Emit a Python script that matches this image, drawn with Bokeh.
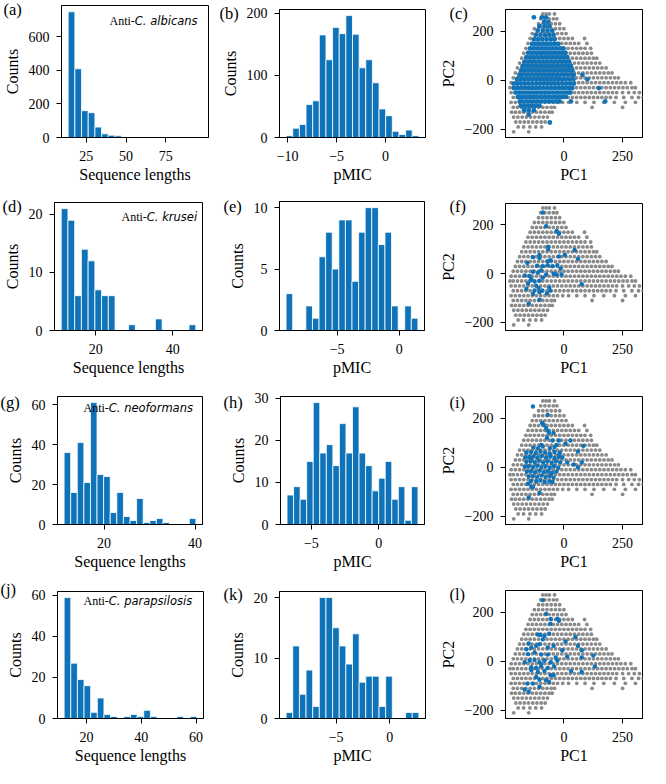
import numpy as np
from bokeh.plotting import figure
from bokeh.layouts import column, row
from bokeh.models import Range1d, FixedTicker, Label
from bokeh.embed import file_html
from bokeh.resources import INLINE

BLUE = "#0f73b9"
GRAY = "#8a8a8a"
SERIF = "Liberation Serif"

# ---------------- histogram data (20 bins each) ----------------
len_albicans = [750, 410, 160, 148, 62, 22, 14, 10, 3, 2, 1, 1, 1, 0, 1, 0, 0, 0, 0, 1]
len_albicans_bins = (13.6, 97.6)
pmic_albicans = [3, 15, 21, 53, 59, 165, 125, 177, 167, 196, 166, 112, 125, 88, 46, 35, 10, 5, 12, 3]
pmic_albicans_bins = (-10.15, 3.4)

len_krusei = [21, 19, 6, 14, 12, 7, 6, 6, 0, 0, 1, 0, 0, 0, 2, 0, 0, 0, 0, 1]
len_krusei_bins = (11.0, 46.0)
pmic_krusei = [3, 0, 0, 2, 1, 6, 8, 5, 9, 9, 4, 8, 10, 10, 7, 8, 2, 0, 2, 1]
pmic_krusei_bins = (-9.1, 1.5)

len_neoformans = [36, 16, 41, 21, 61, 25, 24, 6, 16, 4, 2, 13, 1, 2, 3, 1, 0, 0, 0, 3]
len_neoformans_bins = (11.2, 40.2)
pmic_neoformans = [7, 9, 6, 15, 29, 17, 19, 14, 24, 17, 28, 17, 14, 8, 11, 15, 6, 9, 1, 9]
pmic_neoformans_bins = (-6.8, 2.9)

len_parapsilosis = [59, 27, 19, 16, 3, 10, 2, 1, 0, 1, 2, 1, 4, 1, 0, 0, 0, 1, 0, 1]
len_parapsilosis_bins = (11.8, 60.3)
pmic_parapsilosis = [1, 12, 4, 8, 2, 20, 20, 15, 12, 9, 14, 6, 7, 7, 2, 7, 0, 0, 1, 1]
pmic_parapsilosis_bins = (-9.65, 2.7)

species = ["albicans", "krusei", "neoformans", "parapsilosis"]
len_ticks = [[25, 50, 75], [20, 40], [20, 40], [20, 40, 60]]
len_yticks = [[0, 200, 400, 600], [0, 10, 20], [0, 20, 40, 60], [0, 20, 40, 60]]
pmic_ticks = [[-10, -5, 0], [-5, 0], [-5, 0], [-5, 0]]
pmic_yticks = [[0, 100, 200], [0, 5, 10], [0, 10, 20, 30], [0, 10, 20]]
pc_xticks = [0, 250]
pc_yticks = [-200, 0, 200]
pc_xrange = (-249, 335)
pc_yrange = (-233, 288)

# ---------------- PCA background (all peptides), read row by row ----------------
gray_row_y = [270, 250, 230, 210, 190, 170, 150, 130, 110, 90, 70, 50, 30, 10,
              -10, -30, -50, -70, -90, -110, -130, -150, -170, -190, -210]
gray_row_x = [
    [-90, -76, -62, -40],
    [-99, -81, -63, -45, -30],
    [-108, -90, -72, -54, -36, -18],
    [-126, -108, -90, -72, -54, -36, -18, 0],
    [-135, -117, -99, -81, -63, -45, -27, -9, 9],
    [-144, -126, -108, -90, -72, -54, -36, -18, 0, 18, 36, 88],
    [-153, -135, -117, -99, -81, -63, -45, -27, -9, 9, 27, 45, 63, 98],
    [-162, -144, -126, -108, -90, -72, -54, -36, -18, 0, 18, 36, 54, 72, 90, 114],
    [-171, -153, -135, -117, -99, -81, -63, -45, -27, -9, 9, 27, 45, 63, 81, 99, 117],
    [-180, -162, -144, -126, -108, -90, -72, -54, -36, -18, 0, 18, 36, 54, 72, 90, 108, 126, 140],
    [-189, -171, -153, -135, -117, -99, -81, -63, -45, -27, -9, 9, 27, 45, 63, 81, 99, 117, 135, 153],
    [-198, -180, -162, -144, -126, -108, -90, -72, -54, -36, -18, 0, 18, 36, 54, 72, 90, 108, 126,
     144, 162, 180],
    [-207, -189, -171, -153, -135, -117, -99, -81, -63, -45, -27, -9, 9, 27, 45, 63, 81, 99, 117,
     135, 153, 171, 189, 205],
    [-216, -198, -180, -162, -144, -126, -108, -90, -72, -54, -36, -18, 0, 18, 36, 54, 72, 90, 108,
     126, 144, 162, 180, 198, 216, 232],
    [-225, -207, -189, -171, -153, -135, -117, -99, -81, -63, -45, -27, -9, 9, 27, 45, 63, 81, 99,
     117, 135, 153, 171, 189, 207, 225, 243, 262, 285],
    [-230, -216, -198, -180, -162, -144, -126, -108, -90, -72, -54, -36, -18, 0, 18, 36, 54, 72, 90,
     108, 126, 144, 162, 180, 198, 216, 234, 252, 270, 290, 305],
    [-225, -207, -189, -171, -153, -135, -117, -99, -81, -63, -45, -27, -9, 9, 27, 45, 63, 81, 99,
     117, 135, 153, 171, 189, 207, 225, 250, 276, 300, 322],
    [-216, -198, -180, -162, -144, -126, -108, -90, -72, -54, -36, -18, 0, 18, 36, 54, 72, 90, 108,
     126, 144, 162, 180, 198, 222, 255, 290, 318, 338],
    [-225, -207, -189, -171, -153, -135, -117, -99, -81, -63, -45, -27, -5, 20, 55, 90, 128, 170,
     215, 262, 305],
    [-216, -198, -180, -162, -144, -126, -108, -90, -72, -54, -40, 120, 250],
    [-223, -207, -189, -171, -153, -135, -117, -99, -81, -63, -50],
    [-214, -196, -178, -160, -142, -124, -106, -88, -70],
    [-205, -187, -169, -151, -133, -115, -97, -80],
    [-195, -172, -145, -120, -95],
    [-214, -150],
]

# ---------------- anti-C. albicans peptides in PC space (dense, read row by row) ----------------
alb_row_y = [256, 238, 220, 202, 184, 166, 148, 130, 112, 94, 76, 58, 40, 22, 4,
             -14, -32, -50, -68, -86, -104, -122, -140, -172]
alb_row_x = [
    [-128, -94, -76],
    [-84, -66],
    [-104, -82, -62],
    [-112, -90, -70, -50],
    [-120, -100, -80, -62, -44],
    [-128, -110, -92, -74, -56, -40],
    [-136, -120, -104, -88, -72, -56, -40, -24],
    [-144, -128, -112, -96, -80, -64, -48, -32, -16, -2],
    [-152, -136, -120, -104, -88, -72, -56, -40, -24, -8, 6],
    [-160, -144, -128, -112, -96, -80, -64, -48, -32, -16, 0, 14],
    [-168, -152, -136, -120, -104, -88, -72, -56, -40, -24, -8, 8, 22],
    [-176, -160, -144, -128, -112, -96, -80, -64, -48, -32, -16, 0, 16, 30],
    [-182, -168, -152, -136, -120, -104, -88, -72, -56, -40, -24, -8, 8, 24, 36],
    [-190, -176, -160, -144, -128, -112, -96, -80, -64, -48, -32, -16, 0, 16, 32, 42, 79],
    [-200, -184, -168, -152, -136, -120, -104, -88, -72, -56, -40, -24, -8, 8, 24, 40, 100],
    [-214, -198, -182, -166, -150, -134, -118, -102, -86, -70, -54, -38, -22, -6, 10, 26, 42],
    [-214, -200, -184, -168, -152, -136, -120, -104, -88, -72, -56, -40, -24, -8, 8, 24, 36, 149],
    [-206, -192, -176, -160, -144, -128, -112, -96, -80, -64, -48, -32, -16, 0, 16, 28],
    [-196, -184, -168, -152, -136, -120, -104, -88, -72, -56, -40, -24, -8, 8],
    [-188, -176, -160, -144, -128, -112, -96, -80, -64, -48, -32, -18, 30, 176],
    [-184, -168, -152, -136, -120, -104],
    [-170, -150, -128],
    [-150],
    [-60],
]

# ---------------- anti-C. krusei peptides in PC space ----------------
kru_pc1 = [-90, -76, -31, -21, -67, -67, 46, -132, -104, -104, -69, -56, -21, 4, 60, -156, -114, -90,
           -69, -49, -28, -14, -167, -146, -132, -111, -97, -76, -44, -31, -10, -142, -125, -104, -90,
           -153, -160, -118, -108, -125, -93, -63, -58, -72, -104, -132, -104, -150, 76, -139]
kru_pc2 = [251, 195, 175, 164, 111, 100, 97, 68, 77, 64, 51, 55, 71, 77, 61, 44, 33, 31,
           35, 31, 35, 21, -7, -9, 8, 4, 13, -3, 0, -3, -3, -27, -32, -29, -16,
           -40, -63, -49, -59, -69, -69, -56, -69, -80, -76, -83, -107, -123, -43, -23]

# ---------------- anti-C. neoformans peptides in PC space ----------------
neo_pc1 = [-132, -69, -93, -86, -76, -69, -63, -44, -72, -49, -21, 28, 7, -31, -97, 83, 60, -17, -139,
           42, 60, 76, 14, -7, -153, -139, -132, -104, -150, -49, -56,
           -160, -140, -120, -100, -80, -60, -40, -20,
           -165, -148, -130, -112, -94, -76, -58, -40, -22,
           -160, -142, -124, -106, -88, -70, -52, -34, -16,
           -166, -150, -132, -114, -96, -78, -60, -42, -24,
           -158, -140, -122, -104, -86, -68, -50, -32,
           -150, -132, -114, -96, -78, -60, -44,
           -140, -118, -100, -82, -62,
           -130, -110, -90, -60, -40]
neo_pc2 = [247, 213, 180, 173, 160, 149, 140, 140, 120, 109, 109, 109, 96, 91, 91, 87, 64, 60, 37,
           11, 0, 20, 20, 40, -67, -80, -80, -104, -123, -60, -27,
           60, 62, 58, 64, 60, 56, 62, 52,
           40, 42, 44, 40, 46, 40, 44, 38, 42,
           22, 24, 20, 26, 20, 24, 18, 24, 20,
           2, 4, 0, 6, 0, 4, -2, 4, -2,
           -18, -16, -20, -14, -20, -16, -22, -18,
           -38, -36, -40, -34, -40, -36, -42,
           -56, -58, -54, -60, -58,
           80, 78, 84, 78, 82]

# ---------------- anti-C. parapsilosis peptides in PC space ----------------
par_pc1 = [-90, -76, -28, -21, -56, -58, -111, -100, -83, -63, -90, 7, 49, -150, -139, -118, -104, -69,
           -44, -7, 60, 76, -160, -153, -125, -97, -69, -35, 14, 76, 125, -167, -146, -125, -104, -83,
           -56, -28, -139, -118, -97, -69, -42, -139, -111, -83, -56, -44, 31, 76, 132, -104, -76, -132,
           -63, -156, -104, -167, -150, -118, -97]
par_pc2 = [249, 193, 173, 165, 172, 152, 109, 107, 103, 112, 89, 80, 99, 72, 56, 63, 69, 56,
           63, 45, 63, 45, 49, 29, 36, 27, 27, 16, 19, 16, 23, -4, 3, 5, -4, 3,
           -4, 3, -24, -27, -21, -27, -21, -37, -44, -40, -57, -57, -40, -44, -21, -75, -77, -91,
           -84, -91, -104, -115, -124, -64, -11]

# ---------------- layout (pixels) ----------------
COL_W = [217, 217, 216]
ROW_H = 192
TOP_PANEL = 22                    # room for the panel letter, overlapping the cell above
EXTRA_BOTTOM = [12, 12, 12, 8]    # spare room below each row (overlaps the next row / page margin)
# per panel: (left, right, top, bottom) borders of the frame inside its cell
BORDERS = [
    [(58, 9, 5, 55), (62, 9, 9, 55), (71, 8, 9, 55)],
    [(52, 15, 10, 53), (62, 10, 9, 53), (71, 8, 11, 54)],
    [(57, 15, 12, 51), (63, 10, 12, 51), (71, 8, 12, 52)],
    [(57, 14, 15, 48), (62, 9, 15, 48), (71, 8, 14, 50)],
]
LETTERS = [["(a)", "(b)", "(c)"], ["(d)", "(e)", "(f)"], ["(g)", "(h)", "(i)"], ["(j)", "(k)", "(l)"]]
# letter (left, top) in cell pixels
LETTER_POS = [
    [(0, -1), (2, 3), (15, 3)],
    [(0, 4), (6, 4), (15, 4)],
    [(0, 8), (6, 8), (15, 8)],
    [(0, 3), (6, 8), (15, 8)],
]
# left edge of "Anti-" relative to the frame left, and baseline below frame top
ANNOT_X = [48, 67, 26, 26]
ANNOT_BASE = [15, 15, 12, 11]
ANTI_W = 2.111 * 12  # Liberation Serif advance of "Anti-" at 12px


def fmt_minus(ticks):
    return {t: ("\u2212" + str(abs(t)) if t < 0 else str(t)) for t in ticks}


def make_fig(r, w, b, xr, yr, xticks, yticks, xlabel, ylabel):
    bl, br, bt, bb = b
    extra = TOP_PANEL - bt
    eb = EXTRA_BOTTOM[r]
    p = figure(width=w, height=ROW_H + extra + eb, x_range=Range1d(*xr), y_range=Range1d(*yr),
               min_border_left=bl, min_border_right=br, min_border_top=TOP_PANEL,
               min_border_bottom=bb + eb, margin=(-extra, 0, -eb, 0),
               output_backend="svg", toolbar_location=None, tools="")
    p.xgrid.visible = False
    p.ygrid.visible = False
    p.outline_line_color = "black"
    p.outline_line_width = 1
    p.outline_line_alpha = 1
    p.background_fill_color = "white"
    p.border_fill_color = None
    p.xaxis.ticker = FixedTicker(ticks=xticks)
    p.yaxis.ticker = FixedTicker(ticks=yticks)
    p.xaxis.major_label_overrides = fmt_minus(xticks)
    p.yaxis.major_label_overrides = fmt_minus(yticks)
    p.xaxis.axis_label = xlabel
    p.yaxis.axis_label = ylabel
    for ax in (p.xaxis[0], p.yaxis[0]):
        ax.major_tick_in = 0
        ax.major_tick_out = 5
        ax.minor_tick_line_color = None
        ax.axis_line_color = "black"
        ax.major_tick_line_color = "black"
        ax.major_label_text_font = SERIF
        ax.major_label_text_font_size = "14px"
        ax.major_label_text_color = "black"
        ax.axis_label_text_font = SERIF
        ax.axis_label_text_font_size = "16px"
        ax.axis_label_text_font_style = "normal"
        ax.axis_label_text_color = "black"
    p.xaxis.major_label_standoff = 8
    p.xaxis.axis_label_standoff = 2
    p.yaxis.major_label_standoff = 7
    p.yaxis.axis_label_standoff = 5
    return p


def add_letter(p, r, c):
    bl, br, bt, bb = BORDERS[r][c]
    lx, ly = LETTER_POS[r][c]
    # letter lives in the top side panel (not clipped to the plotting frame)
    p.add_layout(Label(x=lx - bl, y=bt - ly, x_units="screen", y_units="screen",
                       text=LETTERS[r][c], text_font=SERIF, text_font_size="16.5px",
                       text_color="black", text_baseline="top", text_align="left"), "above")


def hist(counts, bins):
    lo, hi = bins
    edges = np.linspace(lo, hi, len(counts) + 1)
    span = hi - lo
    xr = (lo - 0.05 * span, hi + 0.05 * span)
    return edges, xr, (0, 1.05 * max(counts))


rows_out = []
len_data = [(len_albicans, len_albicans_bins), (len_krusei, len_krusei_bins),
            (len_neoformans, len_neoformans_bins), (len_parapsilosis, len_parapsilosis_bins)]
pmic_data = [(pmic_albicans, pmic_albicans_bins), (pmic_krusei, pmic_krusei_bins),
             (pmic_neoformans, pmic_neoformans_bins), (pmic_parapsilosis, pmic_parapsilosis_bins)]

gx = [x for xs in gray_row_x for x in xs]
gy = [y for y, xs in zip(gray_row_y, gray_row_x) for _ in xs]
ax_ = [x for xs in alb_row_x for x in xs]
ay_ = [y for y, xs in zip(alb_row_y, alb_row_x) for _ in xs]
blue_sets = [(ax_, ay_), (kru_pc1, kru_pc2), (neo_pc1, neo_pc2), (par_pc1, par_pc2)]

for r in range(4):
    figs = []
    # sequence-length histogram
    counts, bins = len_data[r]
    edges, xr, yr = hist(counts, bins)
    p = make_fig(r, COL_W[0], BORDERS[r][0], xr, yr, len_ticks[r], len_yticks[r],
                 "Sequence lengths", "Counts")
    p.quad(left=edges[:-1], right=edges[1:], top=counts, bottom=0, fill_color=BLUE,
           line_color="white", line_width=0.8)
    bl, br, bt, bb = BORDERS[r][0]
    fh = ROW_H - bt - bb
    ybase = fh - ANNOT_BASE[r]
    p.add_layout(Label(x=ANNOT_X[r], y=ybase, x_units="screen", y_units="screen", text="Anti-",
                       text_font=SERIF, text_font_size="12px", text_color="black",
                       text_align="left", text_baseline="alphabetic"))
    p.add_layout(Label(x=ANNOT_X[r] + ANTI_W, y=ybase, x_units="screen", y_units="screen",
                       text="C. " + species[r], text_font="DejaVu Sans", text_font_style="italic",
                       text_font_size="11.5px", text_color="black", text_align="left",
                       text_baseline="alphabetic"))
    add_letter(p, r, 0)
    figs.append(p)

    # pMIC histogram
    counts, bins = pmic_data[r]
    edges, xr, yr = hist(counts, bins)
    p = make_fig(r, COL_W[1], BORDERS[r][1], xr, yr, pmic_ticks[r], pmic_yticks[r], "pMIC", "Counts")
    p.quad(left=edges[:-1], right=edges[1:], top=counts, bottom=0, fill_color=BLUE,
           line_color="white", line_width=0.8)
    add_letter(p, r, 1)
    figs.append(p)

    # PCA scatter
    p = make_fig(r, COL_W[2], BORDERS[r][2], pc_xrange, pc_yrange, pc_xticks, pc_yticks, "PC1", "PC2")
    p.scatter(gx, gy, size=3.8, fill_color=GRAY, line_color=None)
    bx, by = blue_sets[r]
    p.scatter(bx, by, size=4.8 if r == 0 else 4.4, fill_color=BLUE, line_color=None)
    add_letter(p, r, 2)
    figs.append(p)
    rows_out.append(row(*figs))

layout = column(*rows_out)
open("out.html", "w").write(file_html(layout, INLINE))
